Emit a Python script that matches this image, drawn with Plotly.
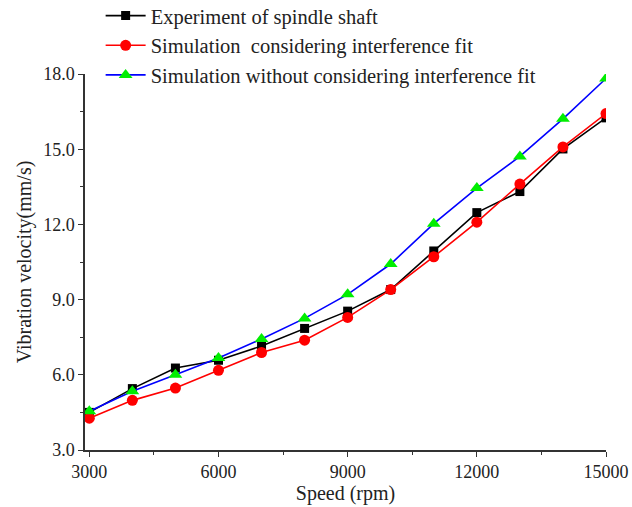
import plotly.graph_objects as go

# Spindle speed (rpm)
speed = [3000, 4000, 5000, 6000, 7000, 8000, 9000, 10000, 11000, 12000, 13000, 14000, 15000]

# Vibration velocity (mm/s)
experiment = [4.50, 5.45, 6.27, 6.58, 7.15, 7.85, 8.54, 9.40, 10.94, 12.47, 13.31, 15.01, 16.25]
sim_with_fit = [4.27, 4.98, 5.47, 6.18, 6.89, 7.38, 8.29, 9.40, 10.71, 12.09, 13.61, 15.09, 16.42]
sim_without_fit = [4.55, 5.34, 6.00, 6.67, 7.43, 8.25, 9.21, 10.42, 12.03, 13.45, 14.71, 16.21, 17.82]

series_names = [
    "Experiment of spindle shaft",
    "Simulation  considering interference fit",
    "Simulation without considering interference fit",
]

FONT = "Liberation Serif, Times New Roman, serif"
TEXT = "#222222"

fig = go.Figure()
fig.add_trace(go.Scatter(
    x=speed, y=experiment, name=series_names[0], mode="lines+markers",
    line=dict(color="#000000", width=1.6),
    marker=dict(symbol="square", size=9, color="#000000"),
))
fig.add_trace(go.Scatter(
    x=speed, y=sim_with_fit, name=series_names[1], mode="lines+markers",
    line=dict(color="#ff0000", width=1.6),
    marker=dict(symbol="circle", size=11, color="#ff0000"),
))
fig.add_trace(go.Scatter(
    x=speed, y=sim_without_fit, name=series_names[2], mode="lines+markers",
    line=dict(color="#0000ff", width=1.6),
    marker=dict(symbol="triangle-up", size=12, color="#00ee00"),
))

axis_common = dict(
    showline=True, linecolor="#333333", linewidth=1.5,
    ticks="outside", ticklen=5, tickwidth=1.3, tickcolor="#333333",
    showgrid=False, zeroline=False, automargin=False,
    tickfont=dict(family=FONT, size=18, color=TEXT),
)

fig.update_xaxes(
    range=[2900, 15000], tickvals=[3000, 6000, 9000, 12000, 15000], tickformat="d",
    tickangle=0,
    minor=dict(tickvals=[4500, 7500, 10500, 13500], ticks="outside", ticklen=3, tickcolor="#333333"),
    title=dict(text="Speed (rpm)", font=dict(family=FONT, size=20, color=TEXT), standoff=3),
    **axis_common,
)
fig.update_yaxes(
    range=[3, 18], tickvals=[3, 6, 9, 12, 15, 18], tickformat=".1f",
    minor=dict(tickvals=[4.5, 7.5, 10.5, 13.5, 16.5], ticks="outside", ticklen=3, tickcolor="#333333"),
    title=dict(text="Vibration velocity(mm/s)", font=dict(family=FONT, size=20, color=TEXT), standoff=6),
    **axis_common,
)

fig.update_layout(
    width=632, height=507,
    margin=dict(l=85, r=26, t=74, b=57, autoexpand=False),
    paper_bgcolor="white", plot_bgcolor="white",
    showlegend=True,
    legend=dict(
        x=0.03, y=1.208, xanchor="left", yanchor="top",
        font=dict(family=FONT, size=20.5, color=TEXT),
        bgcolor="rgba(0,0,0,0)", tracegroupgap=0, itemwidth=40,
    ),
)

fig.write_html("out.html")
